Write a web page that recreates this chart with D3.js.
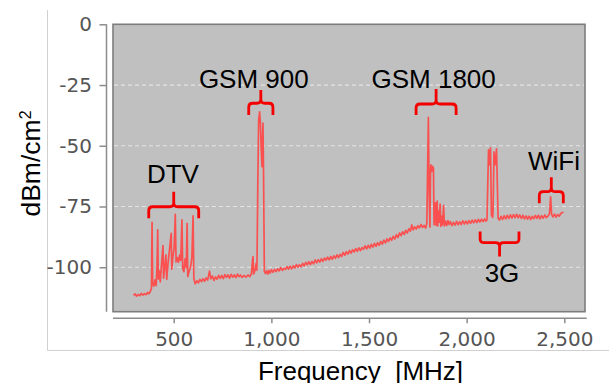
<!DOCTYPE html>
<html><head><meta charset="utf-8">
<script src="https://cdn.jsdelivr.net/npm/d3@7"></script>
<style>body{margin:0;background:#fff}svg{display:block}</style>
</head><body><svg id="c" width="609" height="383"></svg>
<script>
// ---- data ----
const freqMHz = [294,302,310,318,326,334,342,350,358,366,374,381,386,389,392,398,404,410,414,418,421,426,431,437,445,448,453,460,464,470,478,487,490,496,502,508,512,518,524,530,536,542,546,552,558,564,568.5,572,578,586,593,599,603,610,618,626,634,642,650,658,666,674,683,690,698,706,714,722,730,738,746,754,762,770,778,786,794,802,810,818,826,834,842,850,860,870,880,890,898,903,906,909,916,922,926,931,935,940,944,948,952,955,957,960,964,970,976,982,988,994,1000,1008,1016,1024,1032,1040,1048,1056,1064,1072,1080,1088,1096,1104,1112,1120,1128,1136,1144,1152,1160,1168,1176,1184,1192,1200,1208,1216,1224,1232,1240,1248,1256,1264,1272,1280,1288,1296,1304,1312,1320,1328,1336,1344,1352,1360,1368,1376,1384,1392,1400,1408,1416,1424,1432,1440,1448,1456,1464,1472,1480,1488,1496,1504,1512,1520,1528,1536,1544,1552,1560,1568,1576,1584,1592,1600,1608,1616,1624,1632,1640,1648,1656,1664,1672,1680,1688,1696,1704,1712,1719,1726,1734,1742,1750,1758,1766,1774,1782,1790,1796,1800,1804,1808,1812,1815,1817,1822,1826,1830,1833,1837,1840,1843,1846,1849,1852,1856,1860,1864,1868,1872,1876,1882,1886,1892,1898,1904,1910,1916,1924,1932,1940,1948,1956,1964,1972,1980,1988,1996,2004,2012,2020,2028,2036,2044,2052,2060,2068,2076,2084,2092,2098,2104,2112,2117,2122,2127,2133,2135,2140,2145,2153,2161,2168,2176,2184,2192,2200,2208,2216,2224,2232,2240,2248,2256,2264,2272,2280,2288,2296,2304,2312,2320,2328,2336,2344,2352,2360,2368,2376,2384,2392,2400,2408,2416,2424,2430,2435,2442,2450,2458,2466,2474,2482,2490,2495];
const powerDbm = [-111.6,-111.0,-111.9,-111.2,-111.7,-110.8,-111.5,-110.9,-111.3,-110.4,-110.9,-109.8,-108.6,-81.5,-106.5,-107.8,-105.2,-107.6,-100,-84.6,-104.8,-101.5,-106.0,-99.5,-91.1,-104.5,-100.8,-94.9,-105.0,-99.0,-93.0,-86.0,-100.8,-95.5,-92.0,-78.2,-97.8,-96.0,-98.0,-95.0,-97.2,-80.5,-100.5,-101.8,-96.5,-100.2,-81.9,-103.8,-101.8,-100.0,-96,-78.8,-104.6,-106.8,-105.6,-106.4,-105.0,-105.9,-104.7,-105.8,-104.4,-105.3,-101.6,-104.8,-103.6,-105.4,-104.0,-104.9,-103.3,-104.6,-103.4,-104.7,-103.0,-104.2,-103.1,-104.5,-102.9,-104.1,-103.2,-104.3,-102.8,-103.9,-103.2,-104.2,-103.4,-104.1,-103.2,-103.9,-102.6,-97.5,-95.6,-102.8,-101.3,-98.4,-101.2,-62,-39,-36.0,-41,-51,-58.6,-46,-40.7,-62,-101.8,-102.6,-101.4,-102.8,-101.3,-102.4,-101.0,-102.1,-100.9,-101.8,-100.6,-101.5,-100.2,-101.3,-100.4,-100.9,-99.8,-100.8,-99.6,-100.7,-99.4,-100.3,-98.9,-100.0,-99.0,-99.8,-98.4,-99.5,-98.0,-99.0,-97.7,-98.9,-97.6,-98.6,-97.0,-98.2,-96.9,-97.9,-96.5,-97.6,-96.2,-97.1,-95.8,-97.0,-95.6,-96.7,-95.3,-96.3,-94.9,-96.0,-94.7,-95.6,-93.9,-95.1,-93.6,-94.6,-93.1,-94.2,-92.8,-93.7,-92.3,-93.5,-92.0,-93.2,-91.9,-92.6,-91.2,-92.4,-91.0,-92.1,-90.6,-91.7,-90.2,-91.4,-89.9,-91.0,-89.4,-90.5,-88.8,-90.0,-88.3,-89.4,-87.9,-88.9,-87.3,-88.4,-86.6,-87.8,-85.9,-87.0,-85.4,-86.5,-84.8,-85.9,-84.2,-85.1,-82.6,-84.6,-83.4,-84.3,-82.9,-83.8,-82.4,-83.6,-82.8,-83.9,-82.0,-60,-38.3,-70,-83.5,-60,-57.9,-60.5,-58.5,-59.3,-82.5,-76,-73.5,-82.8,-75.5,-72.8,-83.0,-77.0,-81.5,-74.0,-83.2,-79.0,-82.6,-74.5,-83.0,-81.0,-82.8,-80.8,-82.4,-81.2,-82.9,-81.5,-82.7,-81.1,-82.5,-81.3,-82.4,-80.9,-82.2,-81.0,-82.1,-80.8,-81.9,-80.6,-81.7,-80.5,-81.6,-80.3,-81.4,-80.2,-81.2,-80.1,-81.0,-80.5,-51.7,-57.9,-50.9,-78.5,-79.5,-77.2,-52.5,-57.9,-51.3,-79.7,-80.6,-79.1,-80.3,-78.8,-80.1,-78.6,-79.9,-78.4,-79.8,-78.3,-79.6,-78.2,-79.7,-78.5,-79.9,-78.6,-80.1,-78.9,-80.2,-79.0,-80.3,-79.1,-80.0,-78.7,-79.9,-78.6,-80.1,-78.8,-79.8,-78.5,-79.6,-79.0,-78.0,-71.0,-78.2,-79.3,-78.1,-79.4,-78.3,-79.0,-77.9,-77.5,-77.2];
const xTicks = [500, 1000, 1500, 2000, 2500];
const yTicks = [0, -25, -50, -75, -100];
const bandNames = ["DTV", "GSM 900", "GSM 1800", "3G", "WiFi"];
const bandStart = [372, 884, 1741, 2069, 2372];      // MHz
const bandEnd   = [628, 1008, 1946, 2268, 2495];     // MHz
const braceArm  = [-79.8, -37.3, -37.3, -85.3, -73.7]; // dBm where arms end
const braceMid  = [-75.1, -32.5, -32.8, -89.9, -68.9]; // dBm of brace bar
const braceTip  = [-68.9, -27.0, -26.6, -95.6, -63.0]; // dBm of brace tip
const labelFreq = [496, 910, 1831, 2181, 2447];
const labelDbm  = [-65.3, -26.2, -26.2, -105.9, -60.0];

// ---- drawing ----
const svg = d3.select("#c");
const x = d3.scaleLinear().domain([189, 2606]).range([113, 585]);
const y = d3.scaleLinear().domain([-118.3, 0]).range([311.7, 24.3]);

// outer frame lines
svg.append("line").attr("x1",47.5).attr("x2",47.5).attr("y1",10).attr("y2",350.5)
  .attr("stroke","#d0d0d0").attr("stroke-width",1);
svg.append("line").attr("x1",47.5).attr("x2",609).attr("y1",350.5).attr("y2",350.5)
  .attr("stroke","#d0d0d0").attr("stroke-width",1);

// plot background
svg.append("rect").attr("x",x.range()[0]).attr("y",y.range()[1])
  .attr("width",x.range()[1]-x.range()[0]).attr("height",y.range()[0]-y.range()[1])
  .attr("fill","#c0c0c0").attr("stroke","#7d7d7d").attr("stroke-width",1.6);

// gridlines
svg.append("g").selectAll("line").data(yTicks.filter(d=>d!==0)).join("line")
  .attr("x1",x.range()[0]+1).attr("x2",x.range()[1]-1)
  .attr("y1",d=>y(d)).attr("y2",d=>y(d))
  .attr("stroke","#e4e4e4").attr("stroke-width",1.2).attr("stroke-dasharray","4,3");

// axes
const axisFont = "'DejaVu Sans', Verdana, sans-serif";
const gy = svg.append("g").attr("transform","translate(106.5,0)")
  .call(d3.axisLeft(y).tickValues(yTicks).tickSize(7).tickSizeOuter(0).tickPadding(7.5).tickFormat(d => String(d)));
const gx = svg.append("g").attr("transform","translate(0,318.3)")
  .call(d3.axisBottom(x).tickValues(xTicks).tickSize(5).tickSizeOuter(0).tickPadding(9).tickFormat(d3.format(",")));
[gx, gy].forEach(g => {
  g.selectAll("path,line").attr("stroke","#8c8c8c").attr("stroke-width",1.5);
  g.selectAll("text").attr("fill","#555").style("font-family",axisFont).style("font-size","20px");
});
gy.select(".domain").attr("d", `M0,${y.range()[1]}V${y.range()[0]}`);
gx.select(".domain").attr("d", `M${x.range()[0]},0H${x.range()[1]+1.7}`);

// axis titles
const titleFont = "'Liberation Sans', Arial, sans-serif";
svg.append("text").attr("x",360.5).attr("y",380).attr("text-anchor","middle")
  .style("font-family",titleFont).style("font-size","26px").style("white-space","pre")
  .attr("fill","#000").text("Frequency\u00a0 [MHz]");
const yt = svg.append("text").attr("transform","translate(40,163.5) rotate(-90)")
  .attr("text-anchor","middle").style("font-family",titleFont).style("font-size","26.5px").attr("fill","#000");
yt.append("tspan").text("dBm/cm");
yt.append("tspan").attr("dy","-9").style("font-size","16px").text("2");

// spectrum line
const pts = freqMHz.map((f,i)=>[f, powerDbm[i]]);
svg.append("path").datum(pts)
  .attr("d", d3.line().x(d=>x(d[0])).y(d=>y(d[1])))
  .attr("fill","none").attr("stroke","#ff4646").attr("stroke-opacity",0.92)
  .attr("stroke-width",1.7).attr("stroke-linejoin","round");

// braces
function bracePath(x1, x2, yE, yM, yT){
  const xc = (x1+x2)/2, r = 4, s = Math.sign(yT - yM);
  return `M${x1},${yE}L${x1},${yM - s*r}Q${x1},${yM} ${x1+r},${yM}L${xc-r},${yM}Q${xc},${yM} ${xc},${yM+s*r}L${xc},${yT}` +
         `M${x2},${yE}L${x2},${yM - s*r}Q${x2},${yM} ${x2-r},${yM}L${xc+r},${yM}Q${xc},${yM} ${xc},${yM+s*r}L${xc},${yT}`;
}
svg.append("g").selectAll("path").data(bandNames).join("path")
  .attr("d",(d,i)=>bracePath(x(bandStart[i]), x(bandEnd[i]), y(braceArm[i]), y(braceMid[i]), y(braceTip[i])))
  .attr("fill","none").attr("stroke","#f40000").attr("stroke-width",2.8)
  .attr("stroke-linejoin","round").attr("stroke-linecap","butt");

// band labels
svg.append("g").selectAll("text").data(bandNames).join("text")
  .attr("x",(d,i)=>x(labelFreq[i])).attr("y",(d,i)=>y(labelDbm[i]))
  .attr("text-anchor","middle").style("font-family",titleFont).style("font-size","26px")
  .attr("fill","#000").text(d=>d);
</script></body></html>
